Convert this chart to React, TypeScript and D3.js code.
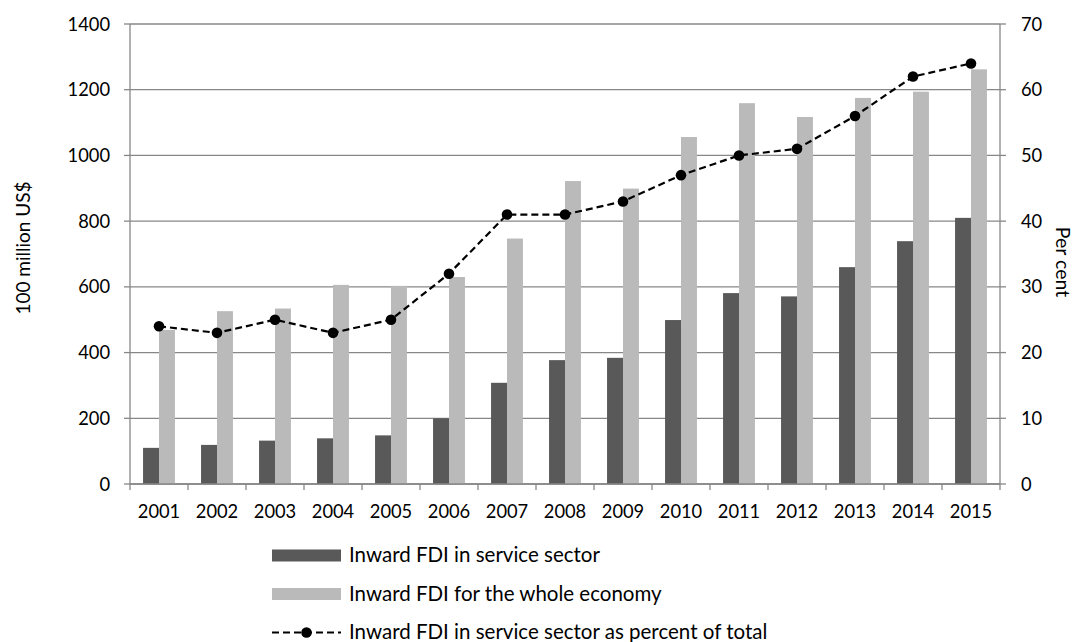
import React, { useEffect } from "react";
import * as d3 from "d3";

const years = ["2001","2002","2003","2004","2005","2006","2007","2008","2009","2010","2011","2012","2013","2014","2015"];
const serviceFDI = [110, 119, 132, 139, 148, 200, 308, 377, 384, 499, 581, 571, 660, 739, 810];
const totalFDI = [469, 526, 534, 606, 603, 630, 747, 922, 899, 1056, 1159, 1117, 1175, 1194, 1262];
const sharePct = [24, 23, 25, 23, 25, 32, 41, 41, 43, 47, 50, 51, 56, 62, 64];
const leftTicks = [0, 200, 400, 600, 800, 1000, 1200, 1400];
const rightTicks = [0, 10, 20, 30, 40, 50, 60, 70];
const legendLabels = [
  "Inward FDI in service sector",
  "Inward FDI for the whole economy",
  "Inward FDI in service sector as percent of total",
];

const W = 1078, H = 642;
const L = 130, R = 1000, T = 24, B = 484;
const FONT = "Lato, 'Open Sans', sans-serif";
const FS = 18.3;
const FS_LEG = 20.5;
const GRID = "#878787";
const DARK = "#595959";
const LIGHT = "#bababa";

export default function App() {
  useEffect(() => {
    document.body.style.margin = "0";
  }, []);

  const x = d3.scaleBand<string>().domain(years).range([L, R]).paddingInner(0.45).paddingOuter(0.225);
  const step = x.step();
  const xs = d3.scaleBand<string>().domain(["s", "t"]).range([0, x.bandwidth()]);
  const yL = d3.scaleLinear().domain([0, 1400]).range([B, T]);
  const yR = d3.scaleLinear().domain([0, 70]).range([B, T]);
  const cx = (y: string) => (x(y) as number) + x.bandwidth() / 2;

  const line = d3.line<number>().x((_, i) => cx(years[i])).y((d) => yR(d));

  const tickXs = d3.range(years.length + 1).map((i) => L + i * step);

  return (
    <svg width={W} height={H} style={{ display: "block", fontFamily: FONT }}>
      <rect width={W} height={H} fill="#fff" />
      {leftTicks.map((t) => (
        <line key={"g" + t} x1={L} x2={R} y1={yL(t)} y2={yL(t)} stroke={GRID} strokeWidth={1.3} />
      ))}
      {years.map((yr, i) => (
        <g key={yr}>
          <rect x={(x(yr) as number) + (xs("s") as number)} y={yL(serviceFDI[i])} width={xs.bandwidth()} height={B - yL(serviceFDI[i])} fill={DARK} />
          <rect x={(x(yr) as number) + (xs("t") as number)} y={yL(totalFDI[i])} width={xs.bandwidth()} height={B - yL(totalFDI[i])} fill={LIGHT} />
        </g>
      ))}
      <line x1={L} x2={L} y1={T} y2={B} stroke={GRID} strokeWidth={1.3} />
      <line x1={R} x2={R} y1={T} y2={B} stroke={GRID} strokeWidth={1.3} />
      <line x1={L} x2={R} y1={B} y2={B} stroke={GRID} strokeWidth={1.3} />
      {leftTicks.map((t) => (
        <line key={"lt" + t} x1={L - 6} x2={L} y1={yL(t)} y2={yL(t)} stroke={GRID} strokeWidth={1.3} />
      ))}
      {rightTicks.map((t) => (
        <line key={"rt" + t} x1={R} x2={R + 6} y1={yR(t)} y2={yR(t)} stroke={GRID} strokeWidth={1.3} />
      ))}
      {tickXs.map((tx, i) => (
        <line key={"xt" + i} x1={tx} x2={tx} y1={B} y2={B + 6} stroke={GRID} strokeWidth={1.3} />
      ))}
      <path d={line(sharePct) || ""} fill="none" stroke="#000" strokeWidth={2.2} strokeDasharray="7,4" />
      {sharePct.map((v, i) => (
        <circle key={"m" + i} cx={cx(years[i])} cy={yR(v)} r={5.3} fill="#000" />
      ))}
      {leftTicks.map((t) => (
        <text key={"ll" + t} x={110} y={yL(t)} dy="0.36em" textAnchor="end" fontSize={FS} fill="#000">{t}</text>
      ))}
      {rightTicks.map((t) => (
        <text key={"rl" + t} x={1021} y={yR(t)} dy="0.36em" textAnchor="start" fontSize={FS} fill="#000">{t}</text>
      ))}
      {years.map((yr) => (
        <text key={"xl" + yr} x={cx(yr)} y={518} textAnchor="middle" fontSize={FS} fill="#000">{yr}</text>
      ))}
      <text transform={`translate(30,248) rotate(-90)`} textAnchor="middle" fontSize={19} fill="#000">100 million US$</text>
      <text transform={`translate(1056,262) rotate(90)`} textAnchor="middle" fontSize={19.5} fill="#000">Per cent</text>
      <rect x={272} y={549.5} width={69} height={12} fill={DARK} />
      <text x={349} y={554.5} dy="0.36em" fontSize={FS_LEG} fill="#000">{legendLabels[0]}</text>
      <rect x={272} y={588} width={69} height={12} fill={LIGHT} />
      <text x={349} y={593.5} dy="0.36em" fontSize={FS_LEG} fill="#000">{legendLabels[1]}</text>
      <line x1={272} x2={341} y1={632.5} y2={632.5} stroke="#000" strokeWidth={2.2} strokeDasharray="7,4" />
      <circle cx={306.5} cy={632.5} r={5.3} fill="#000" />
      <text x={349} y={631.7} dy="0.36em" fontSize={FS_LEG} fill="#000">{legendLabels[2]}</text>
    </svg>
  );
}
